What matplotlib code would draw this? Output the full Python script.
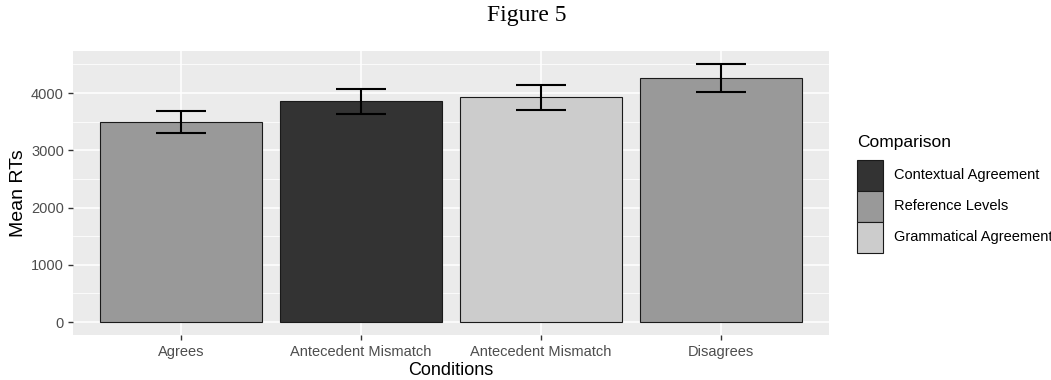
import matplotlib
matplotlib.use("Agg")
import matplotlib.pyplot as plt
from matplotlib.patches import Rectangle
import numpy as np

plt.rcParams["font.family"] = ["Liberation Sans", "DejaVu Sans"]

# Data
conditions = ["Agrees", "Antecedent Mismatch", "Antecedent Mismatch", "Disagrees"]
comparison = ["Reference Levels", "Contextual Agreement", "Grammatical Agreement", "Reference Levels"]
mean_rt = [3500, 3855, 3925, 4268]
se_rt = [195, 225, 222, 242]

legend_order = ["Contextual Agreement", "Reference Levels", "Grammatical Agreement"]
fill_colors = {"Contextual Agreement": "#333333",
               "Reference Levels": "#999999",
               "Grammatical Agreement": "#CCCCCC"}

W, H = 1051, 380
fig = plt.figure(figsize=(W / 100, H / 100), dpi=100)
fig.patch.set_facecolor("white")

# panel in pixel terms
px_left, px_right, px_top, px_bottom = 73, 829, 51, 335
ax = fig.add_axes([px_left / W, (H - px_bottom) / H,
                   (px_right - px_left) / W, (px_bottom - px_top) / H])
ax.set_facecolor("#EBEBEB")

x = np.arange(1, len(conditions) + 1)
ax.bar(x, mean_rt, width=0.9, color=[fill_colors[c] for c in comparison],
       edgecolor="#1a1a1a", linewidth=0.8, zorder=3)
ax.errorbar(x, mean_rt, yerr=se_rt, fmt="none", ecolor="black",
            elinewidth=1.5, capsize=18, capthick=1.5, zorder=4)

ymax = max(m + s for m, s in zip(mean_rt, se_rt))
pad = 0.05 * ymax
ax.set_ylim(-pad, ymax + pad)
ax.set_xlim(0.4, len(conditions) + 0.6)

ax.set_yticks([0, 1000, 2000, 3000, 4000])
ax.set_yticks([500, 1500, 2500, 3500, 4500], minor=True)
ax.set_xticks(x)
ax.set_xticklabels(conditions)

ax.grid(which="major", color="white", linewidth=1.1, zorder=0)
ax.grid(which="minor", axis="y", color="white", linewidth=0.55, zorder=0)
ax.set_axisbelow(True)
for s in ax.spines.values():
    s.set_visible(False)

ax.tick_params(axis="both", which="major", length=3.5, width=1.0, color="#333333",
               labelcolor="#4D4D4D", labelsize=10.5, pad=3)
ax.tick_params(axis="x", which="major", pad=4)
ax.tick_params(axis="both", which="minor", length=0)

ax.set_xlabel("Conditions", fontsize=13, color="black", labelpad=2)
ax.set_ylabel("Mean RTs", fontsize=14, color="black", labelpad=3)

fig.text(527 / W, 1 - 15 / H, "Figure 5", ha="center", va="center",
         fontsize=17, family="Liberation Serif", color="black")

# Legend drawn as keys stacked under the title
fig.text(857 / W, 1 - 142 / H, "Comparison", ha="left", va="center",
         fontsize=12.5, color="black")
key_w, key_h = 26, 31
key_top = 160
for i, name in enumerate(legend_order):
    top = key_top + i * key_h
    fig.add_artist(Rectangle((857 / W, 1 - (top + key_h) / H), key_w / W, key_h / H,
                             transform=fig.transFigure, facecolor=fill_colors[name],
                             edgecolor="#1a1a1a", linewidth=0.8))
    fig.text(894 / W, 1 - (top + key_h / 2) / H, name, ha="left", va="center",
             fontsize=10.5, color="black")

fig.savefig("out.png", dpi=100)
